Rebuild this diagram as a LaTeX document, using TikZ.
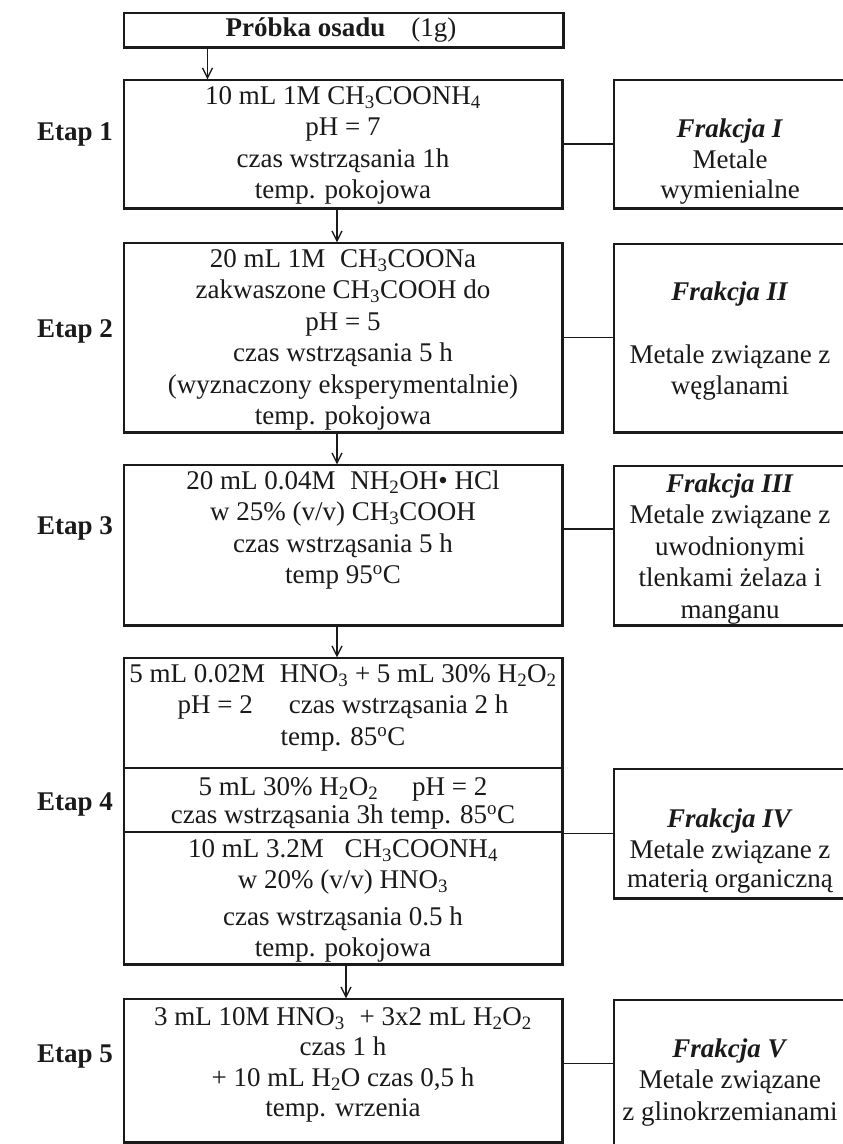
\documentclass[tikz,border=0pt]{standalone}
\usepackage{fontspec}
\setmainfont{Liberation Serif}
\usetikzlibrary{arrows.meta}
\definecolor{ink}{HTML}{1A1A1A}
\newcommand{\chsub}[1]{\textsubscript{#1}}
\newcommand{\mydeg}{\textsuperscript{o}C}
\begin{document}
\begin{tikzpicture}[x=1pt,y=-1pt,
  stepbox/.style={draw=ink, line width=1.3pt, inner sep=0pt, rectangle},
  heavyline/.style={draw=ink, line width=3.2pt, line join=miter},
  joinline/.style={draw=ink, line width=1.3pt},
  flowarrow/.style={draw=ink, line width=1.3pt, -{Straight Barb[length=10pt,width=10pt,line width=1.3pt]}},
  txtblock/.style={inner sep=0pt, align=center, anchor=north, text=ink, font=\fontsize{27}{31.5}\selectfont},
  etaplbl/.style={inner sep=0pt, anchor=base, text=ink, font=\fontsize{27}{31.5}\selectfont\bfseries}]
\useasboundingbox (0,0) rectangle (843,1144);
\fill[white] (0,0) rectangle (843,1144);
\clip (0,0) rectangle (843,1144);

% left column boxes
\node[stepbox, minimum width=439pt, minimum height=34pt]  (b0) at (343.5,30) {};
\node[stepbox, minimum width=438pt, minimum height=128pt] (b1) at (343,144) {};
\node[stepbox, minimum width=438pt, minimum height=189pt] (b2) at (343,337.5) {};
\node[stepbox, minimum width=438pt, minimum height=160pt] (b3) at (343,545) {};
\node[stepbox, minimum width=438pt, minimum height=306pt] (b4) at (343,811) {};
\node[stepbox, minimum width=438pt, minimum height=143pt] (b5) at (343,1070.5) {};

% right column boxes
\node[stepbox, minimum width=236pt, minimum height=128pt] (f1) at (732,144) {};
\node[stepbox, minimum width=236pt, minimum height=188pt] (f2) at (732,338) {};
\node[stepbox, minimum width=236pt, minimum height=159pt] (f3) at (732,545.5) {};
\node[stepbox, minimum width=236pt, minimum height=129pt] (f4) at (732,833.5) {};
\node[stepbox, minimum width=236pt, minimum height=160pt] (f5) at (732,1080) {};

% heavy shadow edges
\foreach \b in {b0,b1,b2,b3,b4,b5}{
  \draw[heavyline] (\b.south west) -- (\b.south east) -- (\b.north east);
}
\foreach \f in {f1,f2,f3,f4,f5}{
  \draw[heavyline] (\f.south west) -- (\f.south east);
}

% dividers in step 4
\coordinate (d1) at (343,768);
\coordinate (d2) at (343,832);
\draw[joinline] (b4.west |- d1) -- (b4.east |- d1);
\draw[joinline] (b4.west |- d2) -- (b4.east |- d2);

% connectors to fractions
\draw[joinline] (b1.east) -- (f1.west);
\draw[joinline] (b2.east) -- (b2.east -| f2.west);
\draw[joinline] ([yshift=16pt]b3.east) -- ([yshift=16pt]b3.east -| f3.west);
\draw[joinline] (f4.west -| b4.east) -- (f4.west);
\draw[joinline] ([yshift=7pt]b5.east) -- ([yshift=7pt]b5.east -| f5.west);

% flow arrows
\draw[flowarrow] ([xshift=-136pt]b0.south) -- ([xshift=-136pt]b0.south |- b1.north);
\draw[flowarrow] ([xshift=-6pt]b1.south) -- ([xshift=-6pt]b2.north);
\draw[flowarrow] ([xshift=-6pt]b2.south) -- ([xshift=-6pt]b3.north);
\draw[flowarrow] ([xshift=-6pt]b3.south) -- ([xshift=-6pt]b4.north);
\draw[flowarrow] ([xshift=3pt]b4.south) -- ([xshift=3pt]b5.north);

% texts of steps
\node[txtblock, anchor=base] (t0) at (341,36) {\textbf{Próbka osadu}\hspace{26pt}(1g)};
\node[txtblock] (t1) at (343,82) {\strut 10 mL 1M CH\chsub{3}COONH\chsub{4}\\
  \strut pH = 7\\ \strut czas wstrząsania 1h\\ \strut temp. pokojowa};
\node[txtblock] (t2) at (343,245) {\strut 20 mL 1M\hspace{8pt} CH\chsub{3}COONa\\
  \strut zakwaszone CH\chsub{3}COOH do\\ \strut pH = 5\\ \strut czas wstrząsania 5 h\\
  \strut (wyznaczony eksperymentalnie)\\ \strut temp. pokojowa};
\node[txtblock] (t3) at (343,467) {\strut 20 mL 0.04M\hspace{8pt} NH\chsub{2}OH• HCl\\
  \strut w 25\% (v/v) CH\chsub{3}COOH\\ \strut czas wstrząsania 5 h\\ \strut temp 95\mydeg};
\node[txtblock] (t4a) at (343,660) {\strut 5 mL 0.02M\hspace{8pt} HNO\chsub{3} + 5 mL 30\% H\chsub{2}O\chsub{2}\\
  \strut pH = 2\hspace{36pt}czas wstrząsania 2 h\\ \strut temp. 85\mydeg};
\node[txtblock] (t4b) at (343,773) {\strut 5 mL 30\% H\chsub{2}O\chsub{2}\hspace{34pt}pH = 2\\[-3pt]
  \strut czas wstrząsania 3h temp. 85\mydeg};
\node[txtblock] (t4c) at (343,835) {\strut 10 mL 3.2M\hspace{14pt} CH\chsub{3}COONH\chsub{4}\\
  \strut w 20\% (v/v) HNO\chsub{3}\\[5pt] \strut czas wstrząsania 0.5 h\\ \strut temp. pokojowa};
\node[txtblock] (t5) at (343,1003) {\strut 3 mL 10M HNO\chsub{3}\hspace{8pt} + 3x2 mL H\chsub{2}O\chsub{2}\\[-1pt]
  \strut czas 1 h\\[-1pt] \strut + 10 mL H\chsub{2}O czas 0,5 h\\[-1pt] \strut temp. wrzenia};

% texts of fractions
\node[txtblock] (ft1) at (730,115) {\strut\textbf{\textit{Frakcja I}}\\ \strut Metale\\[-2pt] \strut wymienialne};
\node[txtblock] (ft2) at (730,278) {\strut\textbf{\textit{Frakcja II}}\\[31.5pt] \strut Metale związane z\\ \strut węglanami};
\node[txtblock] (ft3) at (730,470) {\strut\textbf{\textit{Frakcja III}}\\ \strut Metale związane z\\
  \strut uwodnionymi\\ \strut tlenkami żelaza i\\ \strut manganu};
\node[txtblock] (ft4) at (730,805) {\strut\textbf{\textit{Frakcja IV}}\\ \strut Metale związane z\\[-3pt] \strut materią organiczną};
\node[txtblock] (ft5) at (730,1035) {\strut\textbf{\textit{Frakcja V}}\\ \strut Metale związane\\ \strut z glinokrzemianami};

% stage labels
\node[etaplbl] (e1) at (75,140) {Etap 1};
\node[etaplbl] (e2) at (75,337) {Etap 2};
\node[etaplbl] (e3) at (75,534) {Etap 3};
\node[etaplbl] (e4) at (75,810) {Etap 4};
\node[etaplbl] (e5) at (75,1062) {Etap 5};
\end{tikzpicture}
\end{document}
